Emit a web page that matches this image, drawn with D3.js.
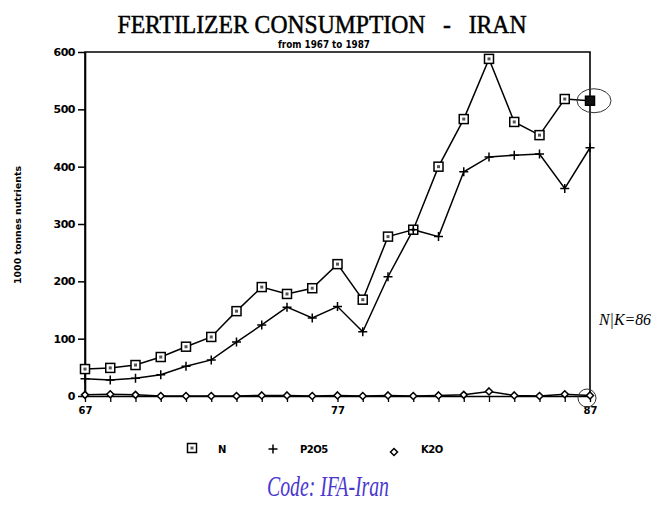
<!DOCTYPE html>
<html><head><meta charset="utf-8">
<script src="https://cdn.jsdelivr.net/npm/d3@7"></script>
<style>body{margin:0;background:#fff}svg{display:block}</style>
</head><body>
<svg id="c" width="658" height="506"></svg>
<script>
const years = [67,68,69,70,71,72,73,74,75,76,77,78,79,80,81,82,83,84,85,86,87];
const nValues   = [47,49,54,68,86,103,148,190,178,188,230,168,278,290,400,483,588,478,455,518,515];
const p2o5Values= [30,28,31,37,52,63,94,124,155,136,156,112,208,290,278,391,417,420,422,362,433];
const k2oValues = [2,3,2,0,0,0,0,1,1,0,1,0,1,0,1,2,8,1,0,3,1];
const yTicks = [0,100,200,300,400,500,600];
const xTickLabels = [67,77,87];
const seriesNames = ["N","P2O5","K2O"];

const svg = d3.select("#c");
const x = d3.scaleLinear().domain([67,87]).range([85,590]);
const y = d3.scaleLinear().domain([0,600]).range([396,52]);
const bold = "'DejaVu Sans', sans-serif";

// title
svg.append("text").attr("x",322).attr("y",33).attr("text-anchor","middle")
  .attr("font-family","'Liberation Serif', serif").attr("font-size",26)
  .attr("stroke","#000").attr("stroke-width",0.5)
  .attr("textLength",409).attr("lengthAdjust","spacingAndGlyphs")
  .text("FERTILIZER CONSUMPTION\u00a0\u00a0 -\u00a0\u00a0 IRAN");
svg.append("text").attr("x",324).attr("y",48).attr("text-anchor","middle")
  .attr("font-family",bold).attr("font-size",10).attr("font-weight","bold")
  .attr("textLength",92).attr("lengthAdjust","spacingAndGlyphs")
  .text("from 1967 to 1987");

// frame
svg.append("path").attr("d",`M${x(67)},${y(0)}V${y(600)}H${x(87)}V${y(0)}`)
  .attr("fill","none").attr("stroke","#000").attr("stroke-width",1.6);

// y axis
const ya = svg.append("g").attr("transform",`translate(${x(67)},0)`)
  .call(d3.axisLeft(y).tickValues(yTicks).tickSize(7).tickSizeOuter(0).tickPadding(3));
ya.select(".domain").attr("stroke-width",1.6);
ya.selectAll(".tick line").attr("stroke-width",1.5);
ya.selectAll("text").attr("font-family",bold).attr("font-weight","bold").attr("font-size",11)
  .attr("letter-spacing","-0.5");

// x axis
const xa = svg.append("g").attr("transform",`translate(0,${y(0)})`)
  .call(d3.axisBottom(x).tickValues(years).tickSize(6).tickSizeOuter(0)
    .tickFormat(d => xTickLabels.includes(d) ? d : ""));
xa.select(".domain").attr("stroke-width",1.6);
xa.selectAll(".tick line").attr("stroke-width",1.3);
xa.selectAll("text").attr("font-family",bold).attr("font-weight","bold").attr("font-size",10)
  .attr("dy","0.9em");

svg.append("text").attr("transform","translate(21,225) rotate(-90)").attr("text-anchor","middle")
  .attr("font-family",bold).attr("font-weight","bold").attr("font-size",8.5)
  .attr("textLength",118).attr("lengthAdjust","spacingAndGlyphs")
  .text("1000 tonnes nutrients");

const line = d3.line().x((d,i)=>x(years[i])).y(d=>y(d));
const data = [nValues,p2o5Values,k2oValues];
data.forEach(s => svg.append("path").attr("d",line(s)).attr("fill","none")
  .attr("stroke","#000").attr("stroke-width",1.5));

function square(g,cx,cy,filled){
  g.append("rect").attr("x",cx-4.5).attr("y",cy-4.5).attr("width",9).attr("height",9)
    .attr("fill",filled?"#111":"#fff").attr("stroke","#000").attr("stroke-width",1.5);
  if(!filled) g.append("rect").attr("x",cx-1.5).attr("y",cy-1.5).attr("width",3).attr("height",3).attr("fill","#555");
}
function plus(g,cx,cy){
  g.append("path").attr("d",`M${cx-4.5},${cy}H${cx+4.5}M${cx},${cy-4.5}V${cy+4.5}`)
    .attr("stroke","#000").attr("stroke-width",1.5);
}
function diamond(g,cx,cy){
  g.append("path").attr("d",`M${cx},${cy-3.5}L${cx+3.5},${cy}L${cx},${cy+3.5}L${cx-3.5},${cy}Z`)
    .attr("fill","#fff").attr("stroke","#000").attr("stroke-width",1.5);
}
const mk = svg.append("g");
nValues.forEach((v,i)=>square(mk,x(years[i]),y(v),i===nValues.length-1));
p2o5Values.forEach((v,i)=>plus(mk,x(years[i]),y(v)));
k2oValues.forEach((v,i)=>diamond(mk,x(years[i]),y(v)));

// legend
const lg = svg.append("g");
square(lg,192,448,false); plus(lg,273,449); diamond(lg,394,452);
[[seriesNames[0],218],[seriesNames[1],300],[seriesNames[2],421]].forEach(([t,lx])=>
  lg.append("text").attr("x",lx).attr("y",453).attr("font-family",bold).attr("font-weight","bold")
    .attr("font-size",10).attr("letter-spacing","-0.5").text(t));

// annotations
svg.append("ellipse").attr("cx",x(87)+4).attr("cy",y(nValues[20])).attr("rx",17).attr("ry",12)
  .attr("fill","none").attr("stroke","#333").attr("stroke-width",1);
svg.append("circle").attr("cx",x(87)-3).attr("cy",y(0)+2).attr("r",9)
  .attr("fill","none").attr("stroke","#333").attr("stroke-width",1);
svg.append("text").attr("x",599).attr("y",325).attr("font-family","'Liberation Serif', serif")
  .attr("font-style","italic").attr("font-size",17).attr("textLength",52).attr("lengthAdjust","spacingAndGlyphs")
  .text("N|K=86");

svg.append("text").attr("x",328).attr("y",496).attr("text-anchor","middle")
  .attr("font-family","'Liberation Serif', serif").attr("font-style","italic").attr("font-size",29)
  .attr("fill","#4b38d0").attr("textLength",122).attr("lengthAdjust","spacingAndGlyphs")
  .text("Code: IFA-Iran");
</script>
</body></html>
